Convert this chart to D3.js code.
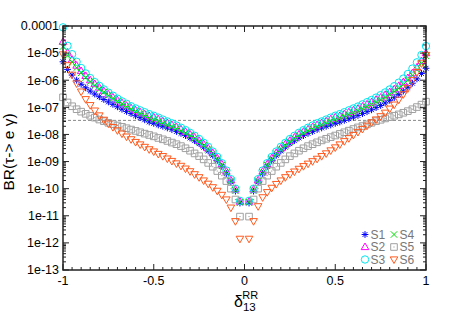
<!DOCTYPE html>
<html>
<head>
<meta charset="utf-8">
<script src="https://cdn.jsdelivr.net/npm/d3@7/dist/d3.min.js"></script>
<style>
  body { margin: 0; background: #fff; }
  svg { font-family: "Liberation Sans", Arial, sans-serif; }
</style>
</head>
<body>
<svg id="chart" width="450" height="315"></svg>
<script>
// delta_13^RR values, left and right branches
var deltaLeft = [-1, -0.975, -0.95, -0.925, -0.9, -0.875, -0.85, -0.825, -0.8, -0.775,
  -0.75, -0.725, -0.7, -0.675, -0.65, -0.625, -0.6, -0.575, -0.55, -0.525,
  -0.5, -0.475, -0.45, -0.425, -0.4, -0.375, -0.35, -0.325, -0.3, -0.275,
  -0.25, -0.225, -0.2, -0.175, -0.15, -0.125, -0.1, -0.075, -0.05, -0.025];
var deltaRight = [0.025, 0.05, 0.075, 0.1, 0.125, 0.15, 0.175, 0.2, 0.225, 0.25,
  0.275, 0.3, 0.325, 0.35, 0.375, 0.4, 0.425, 0.45, 0.475, 0.5,
  0.525, 0.55, 0.575, 0.6, 0.625, 0.65, 0.675, 0.7, 0.725, 0.75,
  0.775, 0.8, 0.825, 0.85, 0.875, 0.9, 0.925, 0.95, 0.975, 1];

// log10 BR (left branch then right branch)
var s1Left = [-5.32, -5.60, -5.81, -6.00, -6.15, -6.28, -6.40, -6.51, -6.61, -6.71,
  -6.80, -6.89, -6.98, -7.07, -7.15, -7.23, -7.31, -7.38, -7.46, -7.54,
  -7.59, -7.65, -7.70, -7.76, -7.82, -7.89, -7.96, -8.04, -8.13, -8.23,
  -8.34, -8.47, -8.61, -8.77, -8.96, -9.18, -9.44, -9.75, -10.09, -10.53];
var s1Right = [-10.53, -10.09, -9.75, -9.44, -9.18, -8.96, -8.77, -8.61, -8.47, -8.34,
  -8.23, -8.13, -8.04, -7.96, -7.89, -7.82, -7.76, -7.70, -7.65, -7.59,
  -7.54, -7.48, -7.42, -7.36, -7.30, -7.23, -7.16, -7.09, -7.01, -6.93,
  -6.84, -6.74, -6.64, -6.53, -6.40, -6.26, -6.11, -5.95, -5.75, -5.56];

var s2Left = [-4.58, -4.98, -5.24, -5.46, -5.66, -5.84, -6.00, -6.14, -6.27, -6.40,
  -6.52, -6.63, -6.74, -6.84, -6.94, -7.03, -7.11, -7.18, -7.25, -7.32,
  -7.37, -7.44, -7.51, -7.58, -7.65, -7.73, -7.81, -7.90, -8.00, -8.11,
  -8.23, -8.36, -8.51, -8.68, -8.88, -9.10, -9.37, -9.69, -10.03, -10.48];
var s2Right = [-10.48, -10.03, -9.69, -9.37, -9.10, -8.88, -8.68, -8.51, -8.36, -8.23,
  -8.11, -8.00, -7.90, -7.81, -7.73, -7.65, -7.58, -7.51, -7.44, -7.37,
  -7.32, -7.25, -7.18, -7.11, -7.05, -6.97, -6.89, -6.81, -6.72, -6.64,
  -6.54, -6.44, -6.33, -6.21, -6.07, -5.92, -5.74, -5.53, -5.29, -5.00];

var s3Left = [-4.05, -4.73, -5.04, -5.32, -5.55, -5.75, -5.92, -6.07, -6.21, -6.34,
  -6.46, -6.57, -6.68, -6.78, -6.87, -6.96, -7.04, -7.11, -7.18, -7.25,
  -7.31, -7.38, -7.45, -7.52, -7.59, -7.67, -7.75, -7.84, -7.94, -8.05,
  -8.17, -8.31, -8.46, -8.63, -8.83, -9.06, -9.33, -9.65, -10.00, -10.45];
var s3Right = [-10.45, -10.00, -9.65, -9.33, -9.06, -8.83, -8.63, -8.46, -8.31, -8.17,
  -8.05, -7.94, -7.84, -7.75, -7.67, -7.59, -7.52, -7.45, -7.38, -7.31,
  -7.25, -7.18, -7.11, -7.04, -6.97, -6.89, -6.81, -6.73, -6.64, -6.55,
  -6.45, -6.34, -6.22, -6.09, -5.94, -5.77, -5.57, -5.34, -5.07, -4.74];

var s4Left = [-4.76, -5.10, -5.33, -5.54, -5.73, -5.90, -6.05, -6.19, -6.32, -6.44,
  -6.56, -6.67, -6.78, -6.88, -6.98, -7.07, -7.15, -7.23, -7.31, -7.40,
  -7.46, -7.52, -7.59, -7.65, -7.72, -7.79, -7.87, -7.95, -8.05, -8.15,
  -8.27, -8.40, -8.55, -8.71, -8.91, -9.13, -9.40, -9.71, -10.06, -10.50];
var s4Right = [-10.50, -10.06, -9.71, -9.40, -9.13, -8.91, -8.71, -8.55, -8.40, -8.27,
  -8.15, -8.05, -7.95, -7.87, -7.79, -7.72, -7.65, -7.59, -7.52, -7.46,
  -7.40, -7.33, -7.27, -7.20, -7.13, -7.06, -6.98, -6.90, -6.82, -6.73,
  -6.64, -6.53, -6.42, -6.30, -6.16, -6.00, -5.82, -5.61, -5.38, -5.10];

var s5Left = [-6.63, -6.82, -6.96, -7.07, -7.16, -7.24, -7.31, -7.38, -7.45, -7.51,
  -7.57, -7.62, -7.67, -7.72, -7.77, -7.82, -7.87, -7.92, -7.97, -8.02,
  -8.07, -8.13, -8.18, -8.24, -8.30, -8.36, -8.43, -8.51, -8.60, -8.70,
  -8.80, -8.92, -9.05, -9.19, -9.35, -9.52, -9.72, -10.00, -10.40, -11.03];
var s5Right = [-11.03, -10.40, -10.00, -9.72, -9.52, -9.35, -9.19, -9.05, -8.92, -8.80,
  -8.70, -8.60, -8.51, -8.43, -8.36, -8.29, -8.22, -8.16, -8.10, -8.04,
  -7.98, -7.92, -7.86, -7.80, -7.74, -7.69, -7.63, -7.57, -7.51, -7.46,
  -7.41, -7.36, -7.31, -7.26, -7.20, -7.14, -7.07, -6.99, -6.90, -6.79];

var s6Left = [-5.05, -5.45, -5.80, -6.12, -6.42, -6.70, -6.92, -7.12, -7.30, -7.46,
  -7.60, -7.73, -7.85, -7.97, -8.08, -8.18, -8.28, -8.37, -8.46, -8.55,
  -8.63, -8.72, -8.80, -8.89, -8.98, -9.07, -9.16, -9.26, -9.36, -9.47,
  -9.58, -9.70, -9.82, -9.95, -10.08, -10.23, -10.40, -10.70, -11.20, -11.85];
var s6Right = [-11.85, -11.20, -10.65, -10.32, -10.13, -9.97, -9.83, -9.70, -9.58, -9.47,
  -9.37, -9.27, -9.17, -9.08, -8.99, -8.90, -8.80, -8.70, -8.59, -8.48,
  -8.37, -8.25, -8.14, -8.02, -7.91, -7.80, -7.68, -7.56, -7.45, -7.33,
  -7.20, -7.05, -6.90, -6.72, -6.52, -6.30, -6.00, -5.70, -5.38, -5.07];

var seriesNames = ["S1", "S2", "S3", "S4", "S5", "S6"];
var expLimit = 3.3e-8;   // dashed line
var xTicks = [-1, -0.5, 0, 0.5, 1];
var yTickLabels = ["1e-13", "1e-12", "1e-11", "1e-10", "1e-09", "1e-08", "1e-07", "1e-06", "1e-05", "0.0001"];

function dibujar() {
  var svg = d3.select("#chart");
  var pl = 63, pr = 426, pt = 26, pb = 270;

  var x = d3.scaleLinear().domain([-1, 1]).range([pl, pr]);
  var y = d3.scaleLog().domain([1e-13, 1e-4]).range([pb, pt]);

  var series = [
    {l: s1Left, r: s1Right, color: "#0000ff", shape: "star"},
    {l: s2Left, r: s2Right, color: "#ff00ff", shape: "tri"},
    {l: s3Left, r: s3Right, color: "#00e5ee", shape: "circle"},
    {l: s4Left, r: s4Right, color: "#00dd00", shape: "cross"},
    {l: s5Left, r: s5Right, color: "#a0a0a0", shape: "square"},
    {l: s6Left, r: s6Right, color: "#ff5a1e", shape: "tridown"}
  ];

  function shapePath(shape) {
    switch (shape) {
      case "star": return "M-3.4,0H3.4M0,-3.4V3.4M-2.4,-2.4L2.4,2.4M-2.4,2.4L2.4,-2.4";
      case "cross": return "M-3.2,-3.2L3.2,3.2M-3.2,3.2L3.2,-3.2";
      case "tri": return "M0,-4L3.8,2.6L-3.8,2.6Z";
      case "tridown": return "M0,4L3.8,-2.6L-3.8,-2.6Z";
      case "square": return "M-3.3,-3.3H3.3V3.3H-3.3ZM-0.6,0H0.6";
      case "circle": return "M3.7,0A3.7,3.7 0 1,1 -3.7,0A3.7,3.7 0 1,1 3.7,0Z";
    }
  }

  // dashed experimental bound
  svg.append("line")
    .attr("x1", pl).attr("x2", pr)
    .attr("y1", y(expLimit)).attr("y2", y(expLimit))
    .attr("stroke", "#888").attr("stroke-width", 1)
    .attr("stroke-dasharray", "3,2");

  // points
  series.forEach(function(s) {
    var pts = [];
    deltaLeft.forEach(function(d, i) { pts.push([d, Math.pow(10, s.l[i])]); });
    deltaRight.forEach(function(d, i) { pts.push([d, Math.pow(10, s.r[i])]); });
    svg.append("g").selectAll("path")
      .data(pts)
      .enter().append("path")
      .attr("transform", function(d) { return "translate(" + x(d[0]) + "," + y(d[1]) + ")"; })
      .attr("d", shapePath(s.shape))
      .attr("fill", "none")
      .attr("stroke", s.color)
      .attr("stroke-width", 1);
  });

  // frame
  svg.append("rect")
    .attr("x", pl).attr("y", pt)
    .attr("width", pr - pl).attr("height", pb - pt)
    .attr("fill", "none").attr("stroke", "#222").attr("stroke-width", 1.5);

  // y ticks (log, with minors) on left and right
  var yAll = y.ticks();
  var yMajor = yAll.filter(function(v) { return Math.abs(Math.log10(v) - Math.round(Math.log10(v))) < 1e-9; });
  var yMinor = yAll.filter(function(v) { return yMajor.indexOf(v) < 0; });
  var ticks = svg.append("g").attr("stroke", "#222").attr("stroke-width", 1);
  yMajor.forEach(function(v) {
    ticks.append("line").attr("x1", pl).attr("x2", pl + 6).attr("y1", y(v)).attr("y2", y(v));
    ticks.append("line").attr("x1", pr).attr("x2", pr - 6).attr("y1", y(v)).attr("y2", y(v));
  });
  yMinor.forEach(function(v) {
    ticks.append("line").attr("x1", pl).attr("x2", pl + 3).attr("y1", y(v)).attr("y2", y(v));
    ticks.append("line").attr("x1", pr).attr("x2", pr - 3).attr("y1", y(v)).attr("y2", y(v));
  });
  var xMinor = d3.range(-1, 1.0001, 0.05);
  xMinor.forEach(function(v) {
    var len = xTicks.some(function(t) { return Math.abs(t - v) < 1e-6; }) ? 6 : 3;
    ticks.append("line").attr("x1", x(v)).attr("x2", x(v)).attr("y1", pb).attr("y2", pb - len);
    ticks.append("line").attr("x1", x(v)).attr("x2", x(v)).attr("y1", pt).attr("y2", pt + len);
  });

  // tick labels
  svg.append("g").selectAll("text")
    .data(yMajor)
    .enter().append("text")
    .attr("x", pl - 4)
    .attr("y", function(d) { return y(d); })
    .attr("dy", "0.35em")
    .attr("text-anchor", "end")
    .attr("font-size", "12.5px")
    .text(function(d, i) { return yTickLabels[i]; });

  svg.append("g").selectAll("text")
    .data(xTicks)
    .enter().append("text")
    .attr("x", function(d) { return x(d); })
    .attr("y", pb + 15)
    .attr("text-anchor", "middle")
    .attr("font-size", "12.5px")
    .text(function(d) { return d; });

  // axis titles
  svg.append("text")
    .attr("transform", "translate(14,152) rotate(-90)")
    .attr("text-anchor", "middle")
    .attr("font-size", "15.5px")
    .text("BR(τ-> e γ)");

  var xt = svg.append("text").attr("x", 234).attr("y", 307).attr("font-size", "16px");
  xt.append("tspan").text("δ");
  xt.append("tspan").attr("font-size", "11.5px").attr("dy", 4).text("13");
  xt.append("tspan").attr("font-size", "11px").attr("dx", -13.5).attr("dy", -12.5).text("RR");

  // legend
  var legend = svg.append("g");
  series.forEach(function(s, i) {
    var col = Math.floor(i / 3), row = i % 3;
    var lx = 365 + col * 29, ly = 234.5 + row * 12.5;
    legend.append("path")
      .attr("transform", "translate(" + lx + "," + ly + ")")
      .attr("d", shapePath(s.shape))
      .attr("fill", "none").attr("stroke", s.color).attr("stroke-width", 1);
    legend.append("text")
      .attr("x", lx + 5.5).attr("y", ly).attr("dy", "0.36em")
      .attr("font-size", "12px").attr("fill", "#777")
      .text(seriesNames[i]);
  });
}

dibujar();
</script>
</body>
</html>
